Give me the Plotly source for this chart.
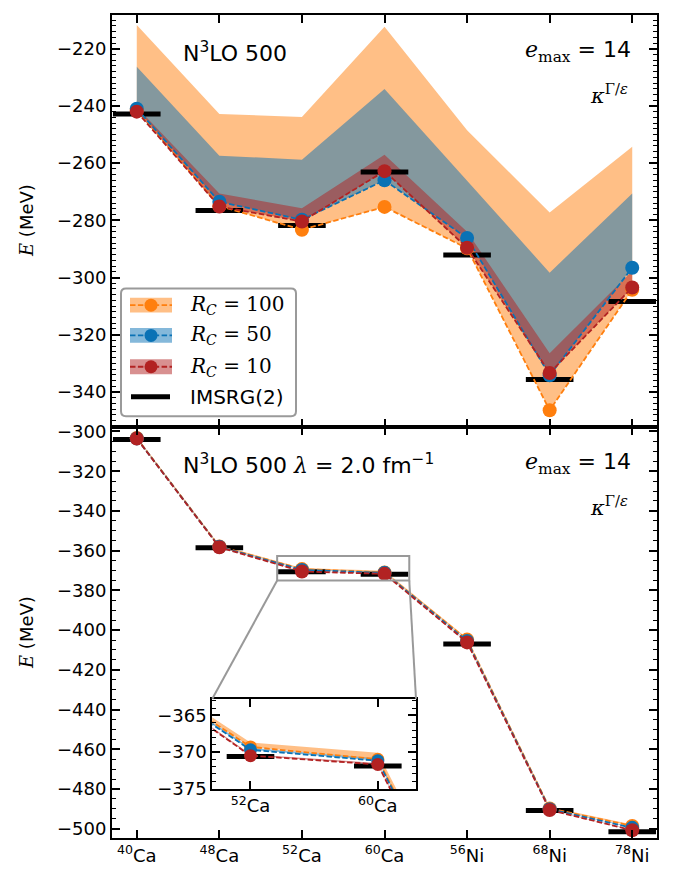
import plotly.graph_objects as go

# ---------------------------------------------------------------- data
nuclei = ["40Ca", "48Ca", "52Ca", "60Ca", "56Ni", "68Ni", "78Ni"]
tick_labels = ["<sup>40</sup>Ca", "<sup>48</sup>Ca", "<sup>52</sup>Ca", "<sup>60</sup>Ca",
               "<sup>56</sup>Ni", "<sup>68</sup>Ni", "<sup>78</sup>Ni"]
x_idx = list(range(len(nuclei)))

# N3LO 500 (bare), ground-state energies in MeV
top_rc100 = [-241.5, -275.0, -283.3, -275.3, -289.8, -346.4, -304.3]
top_rc50 = [-241.0, -273.5, -279.8, -266.0, -286.2, -334.2, -296.6]
top_rc10 = [-242.0, -275.2, -280.4, -262.8, -289.6, -333.4, -303.5]
top_rc100_hi = [-211.7, -242.8, -243.9, -212.3, -248.5, -277.3, -254.3]
top_rc50_hi = [-226.3, -257.4, -258.8, -234.1, -266.2, -298.3, -270.6]
top_rc10_hi = [-240.5, -270.6, -275.8, -257.1, -284.0, -326.5, -297.7]
top_imsrg = [-242.8, -276.6, -281.8, -263.1, -292.1, -335.7, -308.4]

# N3LO 500, SRG-evolved to lambda = 2.0 fm^-1
bot_rc100 = [-303.3, -357.9, -369.3, -371.0, -404.8, -489.8, -498.6]
bot_rc50 = [-303.5, -358.1, -369.7, -371.2, -405.5, -490.2, -499.6]
bot_rc10 = [-303.6, -358.3, -370.5, -371.7, -406.2, -490.6, -500.8]
bot_rc100_hi = [-302.7, -357.3, -368.7, -370.1, -404.1, -489.1, -497.9]
bot_rc50_hi = [-303.2, -357.8, -369.4, -370.9, -405.2, -489.9, -499.2]
bot_rc10_hi = [-303.4, -358.1, -370.3, -371.5, -406.0, -490.4, -500.6]
bot_imsrg = [-304.1, -358.5, -370.6, -371.9, -407.0, -490.8, -501.5]

rc_labels = ["100", "50", "10"]
colors = ["#ff7f0e", "#0a72b5", "#b22222"]
band_colors = ["rgba(255,127,14,0.5)", "rgba(10,114,181,0.5)", "rgba(178,34,34,0.5)"]

# ---------------------------------------------------------------- geometry
W, H = 675, 875
ML, MR, MT, MB = 112, 18, 9, 33
PW, PH = W - ML - MR, H - MT - MB


def px(xp):
    return (xp - ML) / PW


def py(yp):
    return (H - MB - yp) / PH


SERIF = "DejaVu Serif"
SANS = "DejaVu Sans"


def serif(s):
    return f'<span style="font-family:{SERIF}">{s}</span>'


fig = go.Figure()


def add_panel(xa, ya, lows, highs, imsrg, msize):
    for lo, hi, bc in zip(lows, highs, band_colors):
        fig.add_trace(go.Scatter(
            x=x_idx + x_idx[::-1], y=hi + lo[::-1], fill="toself", fillcolor=bc,
            line=dict(width=0), mode="lines", hoverinfo="skip", showlegend=False,
            xaxis=xa, yaxis=ya))
    fig.add_trace(go.Scatter(
        x=x_idx, y=imsrg, mode="markers", showlegend=False, xaxis=xa, yaxis=ya,
        marker=dict(symbol="line-ew", size=34, color="black",
                    line=dict(width=5, color="black"))))
    for lo, c in zip(lows, colors):
        fig.add_trace(go.Scatter(
            x=x_idx, y=lo, mode="lines+markers", showlegend=False, xaxis=xa, yaxis=ya,
            line=dict(color=c, width=1.8, dash="5.5px,2.4px"),
            marker=dict(size=msize, color=c, line=dict(width=0))))


add_panel("x", "y", [top_rc100, top_rc50, top_rc10],
          [top_rc100_hi, top_rc50_hi, top_rc10_hi], top_imsrg, 14)
add_panel("x2", "y2", [bot_rc100, bot_rc50, bot_rc10],
          [bot_rc100_hi, bot_rc50_hi, bot_rc10_hi], bot_imsrg, 14)
add_panel("x3", "y3", [bot_rc100, bot_rc50, bot_rc10],
          [bot_rc100_hi, bot_rc50_hi, bot_rc10_hi], bot_imsrg, 13)

# ---------------------------------------------------------------- axes
XR = [-0.3, 6.3]
TOP_YR = [-352.1, -208.2]
BOT_YR = [-504.7, -297.5]
INS_XR = [1.7, 3.3]
INS_YR = [-375.05, -362.7]
INS_DOM_X = [px(212.3), px(416.0)]
INS_DOM_Y = [py(792.3), py(701.0)]

common = dict(showline=True, linewidth=2, linecolor="black", mirror="ticks",
              ticks="inside", ticklen=8, tickwidth=1.6, tickcolor="black",
              showgrid=False, zeroline=False,
              tickfont=dict(family=SANS, size=18, color="black"))

fig.update_layout(
    width=W, height=H,
    margin=dict(l=ML, r=MR, t=MT, b=MB),
    paper_bgcolor="white", plot_bgcolor="rgba(0,0,0,0)",
    font=dict(family=SANS, color="black"),
    showlegend=False,
    xaxis=dict(domain=[0, 1], anchor="y", range=XR, tickvals=x_idx,
               showticklabels=False, **common),
    yaxis=dict(domain=[0.5, 1], anchor="x", range=TOP_YR, dtick=20, tick0=0,
               minor=dict(dtick=2, tick0=0, ticklen=4, tickwidth=1.2,
                          ticks="inside", tickcolor="black"), **common),
    xaxis2=dict(domain=[0, 1], anchor="y2", range=XR, tickvals=x_idx,
                ticktext=tick_labels, **common),
    yaxis2=dict(domain=[0, 0.5], anchor="x2", range=BOT_YR, dtick=20, tick0=0,
                minor=dict(dtick=5, tick0=0, ticklen=4, tickwidth=1.2,
                           ticks="inside", tickcolor="black"), **common),
    xaxis3=dict(domain=INS_DOM_X, anchor="y3", range=INS_XR, tickvals=[2, 3],
                ticktext=[tick_labels[2], tick_labels[3]], **common),
    yaxis3=dict(domain=INS_DOM_Y, anchor="x3", range=INS_YR,
                tickvals=[-365, -370, -375],
                minor=dict(dtick=1, tick0=0, ticklen=4, tickwidth=1.2,
                           ticks="inside", tickcolor="black"), **common),
)

# ---------------------------------------------------------------- zoom box + connectors
bx0, bx1 = INS_XR
by0, by1 = INS_YR


def main_to_paper(xv, yv):
    fx = (xv - XR[0]) / (XR[1] - XR[0])
    fy = 0.5 * (yv - BOT_YR[0]) / (BOT_YR[1] - BOT_YR[0])
    return fx, fy


gray = "#999999"
fig.add_shape(type="rect", xref="x2", yref="y2", x0=bx0, x1=bx1, y0=by0, y1=by1,
              line=dict(color=gray, width=2), layer="above")
for xv, cx in ((bx0, INS_DOM_X[0]), (bx1, INS_DOM_X[1])):
    fx, fy = main_to_paper(xv, by0)
    fig.add_shape(type="line", xref="paper", yref="paper", x0=fx, y0=fy,
                  x1=cx, y1=INS_DOM_Y[1], line=dict(color=gray, width=2), layer="above")

# ---------------------------------------------------------------- text
ann = []
for off in (0, 417):
    ann.append(dict(x=px(633), y=py(46 + off), xanchor="right", yanchor="middle",
                    text=serif("<i>e</i><sub>max</sub>") + " = 14",
                    font=dict(size=22)))
    ann.append(dict(x=px(630), y=py(89 + off), xanchor="right", yanchor="middle",
                    text=serif("<i>κ</i><sup>Γ/<i>ε</i></sup>"), font=dict(size=21)))
    ann.append(dict(x=px(27), y=py(217.5 + off), xanchor="center", yanchor="middle",
                    textangle=-90, text=serif("<i>E</i>") + " (MeV)",
                    font=dict(size=18)))
ann.append(dict(x=px(181), y=py(46), xanchor="left", yanchor="middle",
                text="N<sup>3</sup>LO 500", font=dict(size=22)))
ann.append(dict(x=px(181), y=py(463), xanchor="left", yanchor="middle",
                text="N<sup>3</sup>LO 500 " + serif("<i>λ</i>") + " = 2.0 fm<sup>−1</sup>",
                font=dict(size=22)))

# ---------------------------------------------------------------- legend
lx0, lx1, ly0, ly1, r = 121, 296, 285.7, 415.0, 5
rx, ry = r / PW, r / PH
X0, X1, Y0, Y1 = px(lx0), px(lx1), py(ly1), py(ly0)
path = (f"M{X0 + rx},{Y0} L{X1 - rx},{Y0} Q{X1},{Y0} {X1},{Y0 + ry} "
        f"L{X1},{Y1 - ry} Q{X1},{Y1} {X1 - rx},{Y1} L{X0 + rx},{Y1} "
        f"Q{X0},{Y1} {X0},{Y1 - ry} L{X0},{Y0 + ry} Q{X0},{Y0} {X0 + rx},{Y0} Z")
fig.add_shape(type="path", xref="paper", yref="paper", path=path,
              fillcolor="rgba(255,255,255,0.8)", line=dict(color="#9a9a9a", width=2),
              layer="above")

entry_y = [302.7, 333.3, 365.0]
for yv, c, bc, lab in zip(entry_y, colors, band_colors, rc_labels):
    fig.add_shape(type="rect", xref="paper", yref="paper", x0=px(130), x1=px(172),
                  y0=py(yv + 7.5), y1=py(yv - 7.5), fillcolor=bc, line=dict(width=0),
                  layer="above")
    fig.add_shape(type="line", xref="paper", yref="paper", x0=px(130), x1=px(172),
                  y0=py(yv), y1=py(yv), line=dict(color=c, width=1.8, dash="5.5px,2.4px"),
                  layer="above")
    fig.add_shape(type="circle", xref="paper", yref="paper", xsizemode="pixel",
                  ysizemode="pixel", xanchor=px(151), yanchor=py(yv),
                  x0=-6.5, x1=6.5, y0=-6.5, y1=6.5, fillcolor=c, line=dict(width=0),
                  layer="above")
    ann.append(dict(x=px(188), y=py(yv), xanchor="left", yanchor="middle",
                    text=serif(f"<i>R</i><sub><i>C</i></sub> = {lab}"),
                    font=dict(size=20)))
fig.add_shape(type="line", xref="paper", yref="paper", x0=px(131), x1=px(170),
              y0=py(395.3), y1=py(395.3), line=dict(color="black", width=5), layer="above")
ann.append(dict(x=px(188), y=py(395.3), xanchor="left", yanchor="middle",
                text="IMSRG(2)", font=dict(size=20)))

for a in ann:
    a.update(xref="paper", yref="paper", showarrow=False)
fig.update_layout(annotations=ann)

fig.write_html("out.html")
